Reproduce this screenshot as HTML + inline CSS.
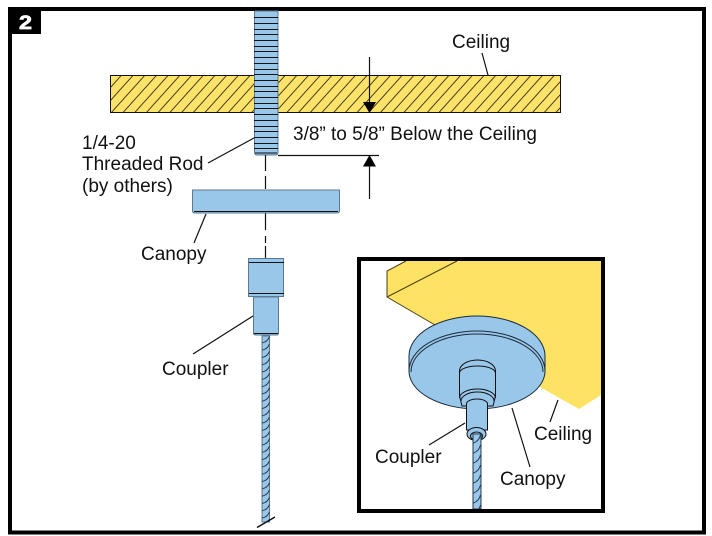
<!DOCTYPE html>
<html><head><meta charset="utf-8"><style>
html,body{margin:0;padding:0;background:#fff;width:712px;height:536px;overflow:hidden}
svg{display:block}
text{font-family:"Liberation Sans",Arial,sans-serif;font-size:19px;fill:#111}
</style></head><body>
<svg width="712" height="536" viewBox="0 0 712 536" xmlns="http://www.w3.org/2000/svg">
<defs>
<pattern id="hatch" patternUnits="userSpaceOnUse" x="110" y="75" width="11.700" height="13"><path d="M-1.170 14.300L12.870 -1.300M-1.170 1.300L1.170 -1.300M10.530 14.300L12.870 11.700" stroke="#2a2510" stroke-width=".9"/></pattern>
<pattern id="twist" patternUnits="userSpaceOnUse" x="262" y="336" width="8" height="7.300"><path d="M0 6.800Q5.500 6 7.500 .6" fill="none" stroke="#1c2a36" stroke-width="1"/></pattern>
<pattern id="twist2" patternUnits="userSpaceOnUse" x="473" y="434" width="8" height="10"><path d="M0.500 9Q6 7 7.500 1" fill="none" stroke="#2a3c4c" stroke-width="1"/></pattern>
</defs>
<rect x="10" y="9" width="694" height="523.500" fill="#fff" stroke="#000" stroke-width="4"/>
<rect x="12" y="11" width="29" height="23" fill="#000"/>
<text x="19" y="29" textLength="13" lengthAdjust="spacingAndGlyphs" style="font-weight:bold;fill:#fff;stroke:#fff;stroke-width:.7">2</text>

<rect x="110.500" y="75.500" width="450" height="37" fill="#fde36a" stroke="#111"/>
<rect x="111" y="76" width="449" height="36" fill="url(#hatch)"/>

<path d="M254.500 11V152Q254.500 155 257 155H275.500Q278 155 278 152V11Z" fill="#99c7ea" stroke="#5d7a92"/>
<path d="M254 17.500H278M254 23.500H278M254 29.500H278M254 34.500H278M254 40.500H278M254 46.500H278M254 51.500H278M254 57.500H278M254 63.500H278M254 69.500H278M254 74.500H278M254 80.500H278M254 86.500H278M254 91.500H278M254 97.500H278M254 103.500H278M254 108.500H278M254 114.500H278M254 120.500H278M254 126.500H278M254 131.500H278M254 137.500H278M254 143.500H278M254 148.500H278" stroke="#111" stroke-width="1" fill="none"/>
<path d="M255 153H277" stroke="#50677c" stroke-width="2"/>
<path d="M254 138L208 163" stroke="#111" stroke-width="1.200" fill="none"/>

<path d="M265.500 155V171M265.500 176V189M265.500 213V230M265.500 236V243M265.500 246V258" stroke="#111" stroke-width="1.200" fill="none"/>

<path d="M192.500 190H339.500V211Q339.500 213 337 213H195Q192.500 213 192.500 211Z" fill="#99c7ea" stroke="#5d7a92"/>
<path d="M194 211.500H338" stroke="#111" stroke-width="1"/>
<path d="M206 214L194 243" stroke="#111" stroke-width="1.200"/>

<rect x="248.500" y="258.500" width="35" height="38" fill="#99c7ea" stroke="#5d7a92"/>
<path d="M249 262.500H284M249 293.500H284" stroke="#111" stroke-width="1"/>
<path d="M253.500 297V333Q253.500 335 256 335H276.500Q278.500 335 278.500 333V297Z" fill="#99c7ea" stroke="#5d7a92"/>
<path d="M254 333.500H278" stroke="#111"/>
<path d="M253 316L193 354" stroke="#111" stroke-width="1.200"/>
<rect x="262" y="336" width="7.500" height="186" fill="#99c7ea" stroke="#5d7a92"/>
<rect x="262" y="336" width="7.500" height="186" fill="url(#twist)"/>
<path d="M257 527.500L275 517" stroke="#111" stroke-width="1.500"/>

<path d="M369.500 57V105" stroke="#111" stroke-width="1.200"/>
<path d="M363 102H376L369.500 113Z" fill="#000"/>
<path d="M278 155.500H379" stroke="#111" stroke-width="1.200"/>
<path d="M363 166.500H376L369.500 155Z" fill="#000"/>
<path d="M369.500 165V199" stroke="#111" stroke-width="1.200"/>
<path d="M482 53L488 75" stroke="#111" stroke-width="1.200"/>

<text x="452" y="48">Ceiling</text>
<text x="293" y="140" textLength="244">3/8” to 5/8” Below the Ceiling</text>
<text x="82" y="149">1/4-20</text>
<text x="82" y="170">Threaded Rod</text>
<text x="82" y="192">(by others)</text>
<text x="141" y="260">Canopy</text>
<text x="162" y="375">Coupler</text>

<rect x="360" y="259" width="243" height="252" fill="#fff"/>
<path d="M387 271L406 261H601V395L579 409L540 387L500 340L435 325L387 297Z" fill="#fee264"/>
<path d="M406 261L387 271V297L435 325M387 297L457 261" fill="none" stroke="#4a3f10" stroke-width="1"/>

<path d="M409 356A68 40 0 0 1 545 356V371A68 38 0 0 1 409 371Z" fill="#99c7ea" stroke="#1c2c3a" stroke-width="1"/>
<path d="M409 371A68 40 0 0 1 545 371" fill="none" stroke="#1c2c3a" stroke-width="1"/>
<path d="M411 372A66 38 0 0 1 543 372" fill="none" stroke="#1c2c3a" stroke-width="1"/>

<path d="M459.500 371A18 11 0 0 1 495.500 371V396L493 406H462L459.500 396Z" fill="#99c7ea" stroke="#111" stroke-width="1"/>
<path d="M459.500 373A18 7 0 0 1 495.500 373" fill="none" stroke="#111"/>
<path d="M459.500 398A18 9 0 0 1 495.500 398" fill="none" stroke="#111"/>
<path d="M461 401A16.500 9 0 0 1 494 401" fill="none" stroke="#111"/>
<path d="M466.500 430V404A10.500 5 0 0 1 487.500 404V430Z" fill="#99c7ea" stroke="#111" stroke-width="1"/>
<ellipse cx="476.500" cy="434" rx="9.500" ry="6.500" fill="#99c7ea" stroke="#111"/>
<ellipse cx="476.500" cy="436" rx="6" ry="4" fill="#99c7ea" stroke="#111"/>
<rect x="473" y="434" width="8" height="75" fill="#99c7ea" stroke="#23394c"/>
<rect x="473" y="434" width="8" height="75" fill="url(#twist2)"/>

<rect x="359" y="259" width="244" height="252" fill="none" stroke="#000" stroke-width="4"/>
<path d="M558 400L550 422M512 408L530 467M465 423L429 445" stroke="#111" stroke-width="1.200" fill="none"/>
<text x="534" y="440">Ceiling</text>
<text x="500" y="485">Canopy</text>
<text x="375" y="463">Coupler</text>
</svg>
</body></html>
